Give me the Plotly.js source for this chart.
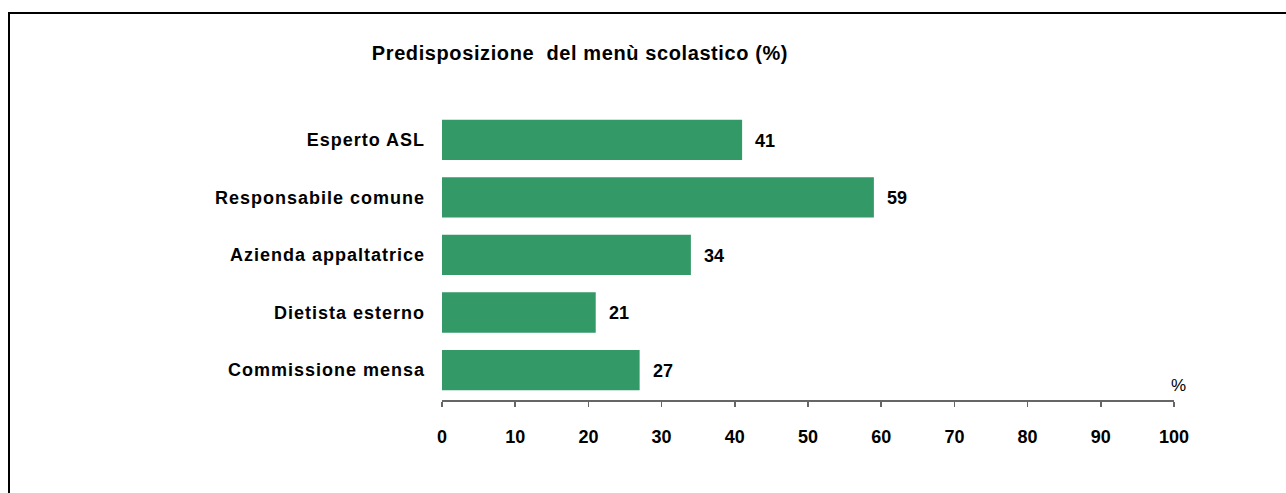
<!DOCTYPE html>
<html>
<head>
<meta charset="utf-8">
<script src="https://cdn.plot.ly/plotly-3.0.1.min.js"></script>
<style>
  html, body { margin:0; padding:0; background:#fff; }
  #wrap { position:relative; width:1286px; height:493px; }
  #chart { position:absolute; left:0; top:0; width:1286px; height:493px; }
  #frame { position:absolute; left:8px; top:12px; width:1290px; height:500px;
           border-left:2px solid #000; border-top:2px solid #000; pointer-events:none; }
  #chart .ytick text { letter-spacing: 1px; }
  #chart .gtitle { letter-spacing: 0.6px; }
</style>
</head>
<body>
<div id="wrap">
  <div id="chart"></div>
  <div id="frame"></div>
</div>
<script>
const categories = ["Esperto ASL", "Responsabile comune", "Azienda appaltatrice", "Dietista esterno", "Commissione mensa"];
const values = [41, 59, 34, 21, 27];
const xTicks = [0, 10, 20, 30, 40, 50, 60, 70, 80, 90, 100];

const fontFam = '"Liberation Sans", Arial, sans-serif';

const trace = {
  type: 'bar',
  orientation: 'h',
  x: values,
  y: categories,
  marker: { color: '#339966' },
  width: 0.7,
  hoverinfo: 'none'
};

const annotations = values.map((v, i) => ({
  x: v, y: categories[i], xref: 'x', yref: 'y',
  text: String(v), showarrow: false, xanchor: 'left', xshift: 11, yshift: -1,
  font: { family: fontFam, size: 18, color: '#000', weight: 'bold' }
}));
annotations.push({
  x: 1.0, y: 0, xref: 'paper', yref: 'paper', text: '%', showarrow: false,
  xanchor: 'left', yanchor: 'bottom', xshift: -5, yshift: 3,
  font: { family: fontFam, size: 17, color: '#000' }
});

const layout = {
  width: 1286, height: 493,
  paper_bgcolor: '#fff', plot_bgcolor: '#fff',
  margin: { l: 442, r: 112, t: 111, b: 93 },
  title: {
    text: 'Predisposizione  del menù scolastico (%)',
    x: 0.451, xanchor: 'center', y: 0.893, yanchor: 'middle',
    font: { family: fontFam, size: 20, color: '#000', weight: 'bold' }
  },
  xaxis: {
    range: [0, 100], tickvals: xTicks, ticktext: xTicks.map(String),
    showgrid: false, zeroline: false, showline: true, linecolor: '#666', linewidth: 2,
    ticks: 'outside', ticklen: 5, tickcolor: '#666', tickwidth: 1.5,
    ticklabelstandoff: 14,
    tickfont: { family: fontFam, size: 18, color: '#000', weight: 'bold' },
    fixedrange: true
  },
  yaxis: {
    categoryorder: 'array', categoryarray: categories,
    range: [4.52, -0.5],
    showgrid: false, zeroline: false, showline: false, ticks: '',
    ticklabelstandoff: 16,
    tickfont: { family: fontFam, size: 18, color: '#000', weight: 'bold' },
    fixedrange: true
  },
  annotations: annotations,
  showlegend: false
};

Plotly.newPlot('chart', [trace], layout, { staticPlot: true, displayModeBar: false });
</script>
</body>
</html>
